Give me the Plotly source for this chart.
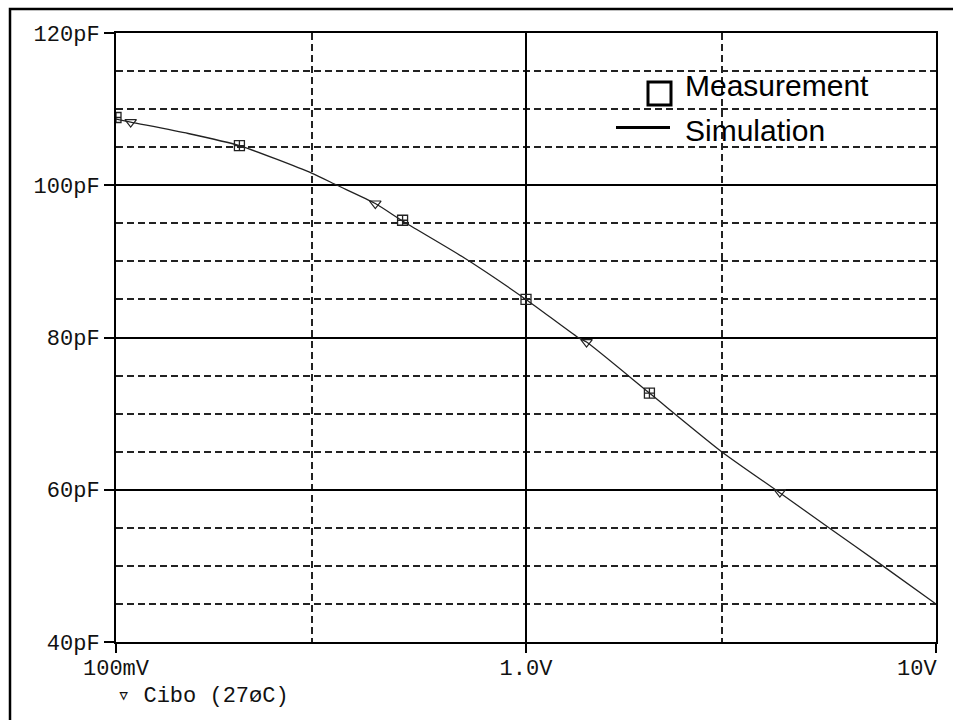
import plotly.graph_objects as go

# ---- data ----
meas_v = [0.1, 0.2, 0.5, 1.0, 2.0]
meas_c = [108.9, 105.2, 95.4, 85.0, 72.7]

sim_v = [0.1, 0.1086, 0.15, 0.2, 0.3, 0.346, 0.429, 0.5, 0.7, 1.0,
         1.34, 1.405, 2.0, 3.0, 4.06, 5.48, 7.42, 10.0]
sim_c = [108.7, 108.3, 106.8, 105.2, 101.6, 100.0, 97.6, 95.3, 90.6, 85.0,
         80.0, 79.4, 72.7, 65.0, 60.0, 55.0, 50.0, 45.0]

sim_mark_v = [0.1086, 0.429, 1.405, 4.16]
sim_mark_c = [108.3, 97.6, 79.4, 59.7]

x_tick_vals = [0.1, 1.0, 10.0]
x_tick_text = ["100mV", "1.0V", ""]
x_last_tick = 10.0
x_last_text = "10V"
x_minor_vals = [0.3, 3.0]

y_tick_vals = [40, 60, 80, 100, 120]
y_tick_text = ["40pF", "60pF", "80pF", "100pF", "120pF"]
y_minor_vals = [45, 50, 55, 65, 70, 75, 85, 90, 95, 105, 110, 115]

trace_label = "\u25bf Cibo (27\u00f8C)"
legend_labels = ["Measurement", "Simulation"]

# ---- layout geometry ----
W, H = 953, 720
L, R, T, B = 116, 936, 33, 642
MONO = "Liberation Mono, Courier New, DejaVu Sans Mono, monospace"
SANS = "Liberation Sans, Arial, Helvetica, sans-serif"


def px(x):
    return (x - L) / (R - L)


def py(y):
    return (B - y) / (B - T)


fig = go.Figure()

fig.add_trace(go.Scatter(
    x=sim_v, y=sim_c, mode="lines",
    line=dict(color="#222222", width=1.3, shape="spline", smoothing=0.6),
    showlegend=False, hoverinfo="skip"))

fig.add_trace(go.Scatter(
    x=sim_mark_v, y=sim_mark_c, mode="markers",
    marker=dict(symbol="triangle-down-open", size=10, color="#222222",
                line=dict(width=1.2)),
    showlegend=False))

fig.add_trace(go.Scatter(
    x=meas_v, y=meas_c, mode="markers",
    marker=dict(symbol="square-cross-open", size=10, color="#222222",
                line=dict(width=1.3)),
    showlegend=False))

grid_dash = "7px,4px"
TICKFONT = dict(family=MONO, size=22, color="#111111")

fig.update_xaxes(
    type="log", range=[-1, 1], automargin=False,
    tickvals=x_tick_vals, ticktext=x_tick_text,
    ticks="outside", ticklen=9, tickwidth=1.5, tickcolor="black",
    ticklabelstandoff=-4,
    showline=True, linecolor="black", linewidth=2, mirror=True,
    showgrid=True, gridcolor="black", gridwidth=1.5,
    tickfont=TICKFONT, ticklabeloverflow="allow",
    minor=dict(tickvals=x_minor_vals, showgrid=True, gridcolor="#222222",
               gridwidth=1.5, griddash=grid_dash, ticks=""),
    zeroline=False, fixedrange=True,
)

fig.update_yaxes(
    range=[40, 120], automargin=False,
    tickvals=y_tick_vals, ticktext=y_tick_text,
    ticks="outside", ticklen=10, tickwidth=1.5, tickcolor="black",
    showline=True, linecolor="black", linewidth=2, mirror=True,
    showgrid=True, gridcolor="black", gridwidth=1.5,
    tickfont=TICKFONT, ticklabeloverflow="allow",
    minor=dict(tickvals=y_minor_vals, showgrid=True, gridcolor="#222222",
               gridwidth=1.5, griddash=grid_dash, ticks=""),
    zeroline=False, fixedrange=True,
)

shapes = [
    # outer frame of the picture
    dict(type="rect", xref="paper", yref="paper",
         x0=px(10), x1=px(975), y0=py(740), y1=py(9),
         line=dict(color="black", width=2.5), layer="above"),
    # legend: measurement square
    dict(type="rect", xref="paper", yref="paper",
         x0=px(648), x1=px(671), y0=py(105), y1=py(82),
         line=dict(color="black", width=3), fillcolor="white", layer="above"),
    # legend: simulation line
    dict(type="line", xref="paper", yref="paper",
         x0=px(616), x1=px(670), y0=py(127.5), y1=py(127.5),
         line=dict(color="black", width=3), layer="above"),
]

annotations = [
    dict(text=legend_labels[0], xref="paper", yref="paper",
         x=px(683), y=py(85), xanchor="left", yanchor="middle",
         showarrow=False, font=dict(family=SANS, size=30, color="black")),
    dict(text=legend_labels[1], xref="paper", yref="paper",
         x=px(683), y=py(130), xanchor="left", yanchor="middle",
         showarrow=False, font=dict(family=SANS, size=30, color="black")),
    dict(text=trace_label, xref="paper", yref="paper",
         x=px(115), y=py(696), xanchor="left", yanchor="middle",
         showarrow=False, font=TICKFONT),
    # last x tick label, kept inside the picture (right-aligned at the tick)
    dict(text=x_last_text, xref="x", yref="paper",
         x=1.0 if x_last_tick == 10.0 else x_last_tick, y=py(669),
         xanchor="right", yanchor="middle", xshift=3,
         showarrow=False, font=TICKFONT),
]

fig.update_layout(
    width=W, height=H,
    margin=dict(l=L, r=W - R, t=T, b=H - B, pad=0),
    paper_bgcolor="white", plot_bgcolor="white",
    shapes=shapes, annotations=annotations,
    showlegend=False,
)

fig.write_html(
    "out.html",
    config={"displayModeBar": False},
    post_script="document.body.style.margin='0';document.body.style.overflow='hidden';",
)
